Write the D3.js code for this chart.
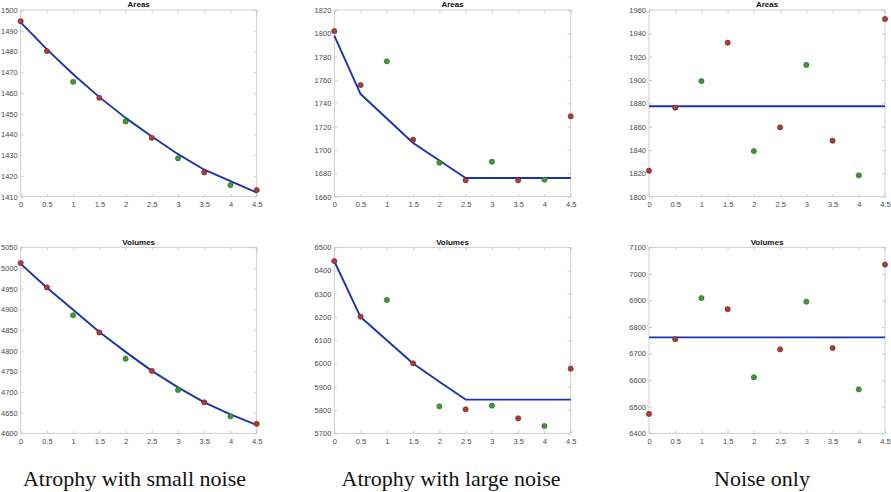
<!DOCTYPE html>
<html>
<head>
<meta charset="utf-8">
<script src="https://cdn.jsdelivr.net/npm/d3@7"></script>
<style>
  html, body { margin: 0; padding: 0; background: #fff; }
  svg { display: block; }
</style>
</head>
<body>
<svg id="chart" width="891" height="492"></svg>
<script>
// ---------- data ----------
const xValues = [0, 0.5, 1, 1.5, 2, 2.5, 3, 3.5, 4, 4.5];
const xTickLabels = ["0", "0.5", "1", "1.5", "2", "2.5", "3", "3.5", "4", "4.5"];
const pointGroup = ["A", "A", "B", "A", "B", "A", "B", "A", "B", "A"];

const panelTitles = ["Areas", "Areas", "Areas", "Volumes", "Volumes", "Volumes"];
const captions = ["Atrophy with small noise", "Atrophy with large noise", "Noise only"];

const smallAreasPts = [1494.6, 1480.2, 1465.4, 1457.7, 1446.3, 1438.4, 1428.5, 1421.7, 1415.6, 1413.2];
const smallAreasFit = [1494, 1481, 1469, 1458, 1448, 1439, 1430.5, 1423, 1417.5, 1412];
const largeAreasPts = [1802, 1755.7, 1776, 1708.9, 1689.1, 1674, 1690, 1674, 1674.6, 1728.9];
const largeAreasFit = [1798, 1748, 1727, 1706, 1691, 1676, 1676, 1676, 1676, 1676];
const noiseAreasPts = [1822.3, 1876.3, 1899.1, 1932, 1839.1, 1859.4, 1912.9, 1848, 1818.3, 1952.3];
const noiseAreasFit = [1877.5, 1877.5, 1877.5, 1877.5, 1877.5, 1877.5, 1877.5, 1877.5, 1877.5, 1877.5];

const smallVolPts = [5012, 4953, 4885.5, 4844, 4780.6, 4751, 4705, 4675, 4641, 4623];
const smallVolFit = [5010, 4952, 4899, 4845, 4797, 4751, 4711, 4675, 4646, 4620];
const largeVolPts = [6441, 6202, 6273.5, 6001, 5816, 5803, 5819, 5764.5, 5731.5, 5978];
const largeVolFit = [6440, 6200, 6100, 6000, 5922, 5845, 5845, 5845, 5845, 5845];
const noiseVolPts = [6473, 6754, 6909, 6867, 6611, 6716, 6895.5, 6721, 6565.5, 7035];
const noiseVolFit = [6761, 6761, 6761, 6761, 6761, 6761, 6761, 6761, 6761, 6761];

const yTicks1 = [1410, 1420, 1430, 1440, 1450, 1460, 1470, 1480, 1490, 1500];
const yTicks2 = [1660, 1680, 1700, 1720, 1740, 1760, 1780, 1800, 1820];
const yTicks3 = [1800, 1820, 1840, 1860, 1880, 1900, 1920, 1940, 1960];
const yTicks4 = [4600, 4650, 4700, 4750, 4800, 4850, 4900, 4950, 5000, 5050];
const yTicks5 = [5700, 5800, 5900, 6000, 6100, 6200, 6300, 6400, 6500];
const yTicks6 = [6400, 6500, 6600, 6700, 6800, 6900, 7000, 7100];

const panelPts = [smallAreasPts, largeAreasPts, noiseAreasPts, smallVolPts, largeVolPts, noiseVolPts];
const panelFit = [smallAreasFit, largeAreasFit, noiseAreasFit, smallVolFit, largeVolFit, noiseVolFit];
const panelTicks = [yTicks1, yTicks2, yTicks3, yTicks4, yTicks5, yTicks6];

// ---------- layout ----------
const colX = [[20.7, 256.7], [334.3, 570.7], [649, 885]];
const rowY = [[10, 196.7], [247.3, 433.3]];
const captionX = [134.5, 451, 762];

const svg = d3.select("#chart");
const boxColor = "#c4c4c4";
const labelColor = "#4a4a4a";
const color = d3.scaleOrdinal().domain(["A", "B"]).range(["#b23b39", "#3e9b3a"]);
const strokeCol = d3.scaleOrdinal().domain(["A", "B"]).range(["#5e2221", "#2a5a26"]);

for (let p = 0; p < 6; p++) {
  const r = Math.floor(p / 3), c = p % 3;
  const [x0, x1] = colX[c];
  const [y0, y1] = rowY[r];
  const ticks = panelTicks[p];
  const x = d3.scaleLinear().domain([0, 4.5]).range([x0, x1]);
  const y = d3.scaleLinear().domain([ticks[0], ticks[ticks.length - 1]]).range([y1, y0]);

  const g = svg.append("g");

  // box
  g.append("rect").attr("x", x0).attr("y", y0).attr("width", x1 - x0).attr("height", y1 - y0)
    .attr("fill", "none").attr("stroke", boxColor).attr("stroke-width", 0.8);

  // axes
  const ax = d3.axisBottom(x).tickValues(xValues).tickFormat((d, i) => xTickLabels[i])
    .tickSizeInner(-3).tickSizeOuter(0).tickPadding(5);
  const gx = g.append("g").attr("transform", `translate(0,${y1})`).call(ax);
  const axT = d3.axisTop(x).tickValues(xValues).tickFormat("").tickSizeInner(-3).tickSizeOuter(0);
  const gxt = g.append("g").attr("transform", `translate(0,${y0})`).call(axT);
  const ay = d3.axisLeft(y).tickValues(ticks).tickFormat(d3.format("d"))
    .tickSizeInner(-3).tickSizeOuter(0).tickPadding(3);
  const gy = g.append("g").attr("transform", `translate(${x0},0)`).call(ay);
  const ayR = d3.axisRight(y).tickValues(ticks).tickFormat("").tickSizeInner(-3).tickSizeOuter(0);
  const gyr = g.append("g").attr("transform", `translate(${x1},0)`).call(ayR);

  [gx, gxt, gy, gyr].forEach(a => {
    a.select(".domain").remove();
    a.selectAll(".tick line").attr("stroke", boxColor).attr("stroke-width", 0.8);
    a.selectAll(".tick text").attr("fill", labelColor)
      .style("font-family", "'Liberation Sans', Arial, sans-serif").style("font-size", "7.5px");
  });

  // title
  g.append("text").attr("x", (x0 + x1) / 2).attr("y", y0 - 2.8).attr("text-anchor", "middle")
    .style("font-family", "'Liberation Sans', Arial, sans-serif").style("font-weight", "bold")
    .style("font-size", "8px").attr("fill", "#111").text(panelTitles[p]);

  // fit line
  const line = d3.line().x((d, i) => x(xValues[i])).y(d => y(d));
  g.append("path").datum(panelFit[p]).attr("d", line).attr("fill", "none")
    .attr("stroke", "#1b34ad").attr("stroke-width", 1.9).attr("stroke-linejoin", "round");

  // points
  g.selectAll("circle.pt").data(panelPts[p]).enter().append("circle")
    .attr("class", "pt")
    .attr("cx", (d, i) => x(xValues[i])).attr("cy", d => y(d)).attr("r", 2.6)
    .attr("fill", (d, i) => color(pointGroup[i]))
    .attr("stroke", (d, i) => strokeCol(pointGroup[i])).attr("stroke-width", 0.6);
}

// captions
svg.selectAll("text.caption").data(captions).enter().append("text")
  .attr("class", "caption")
  .attr("x", (d, i) => captionX[i]).attr("y", 485.5).attr("text-anchor", "middle")
  .style("font-family", "'Liberation Serif', 'Times New Roman', serif").style("font-size", "22px")
  .attr("fill", "#111").text(d => d);
</script>
</body>
</html>
